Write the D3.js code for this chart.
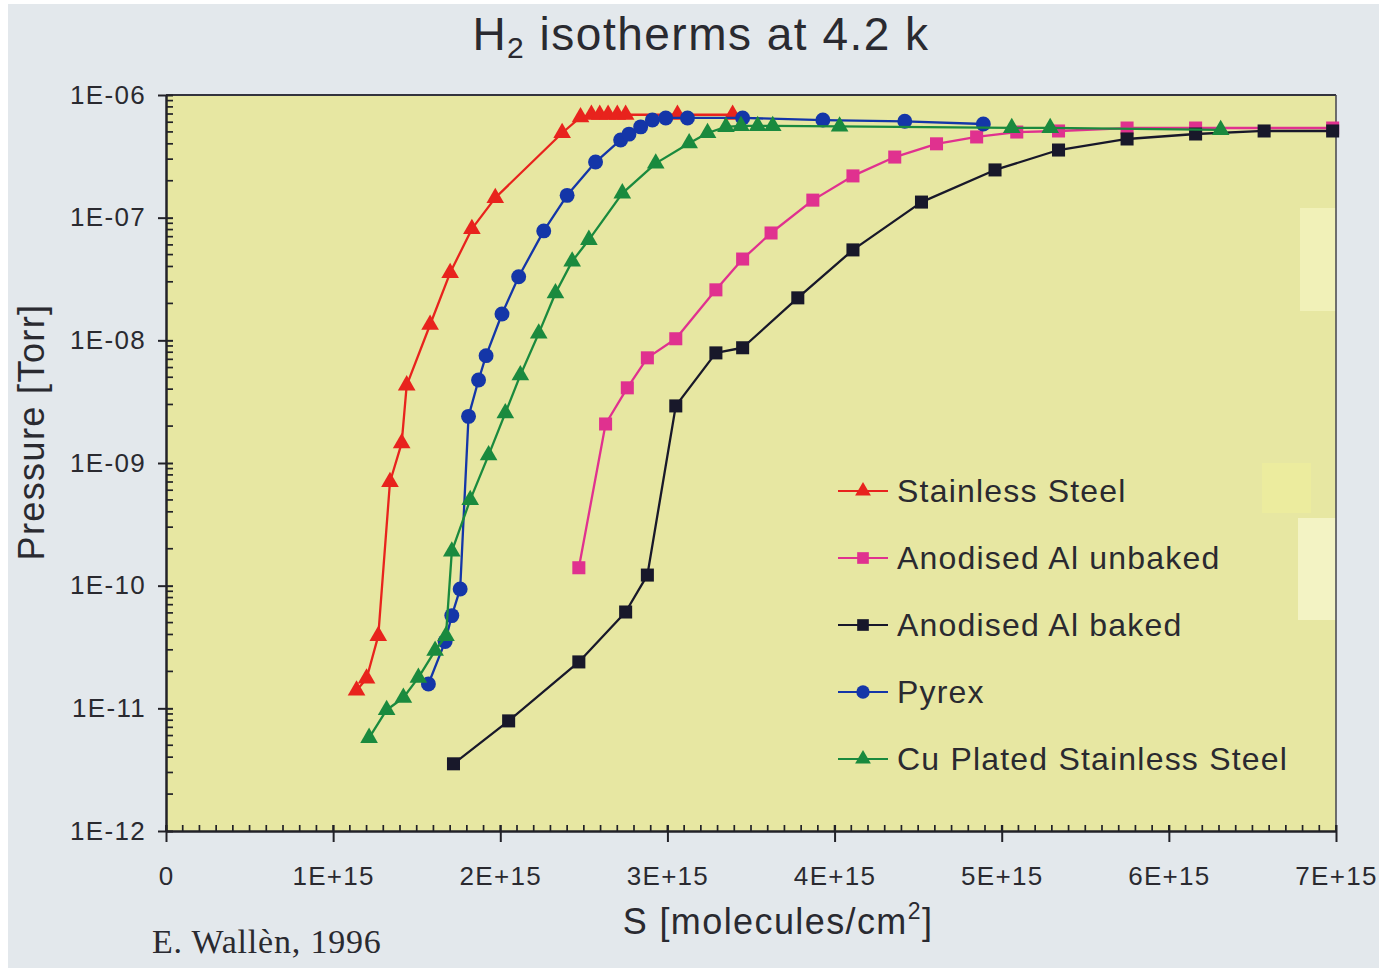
<!DOCTYPE html>
<html>
<head>
<meta charset="utf-8">
<script src="https://cdn.jsdelivr.net/npm/d3@7"></script>
<style>
  html, body { margin: 0; padding: 0; background: #ffffff; }
  svg { display: block; }
  text { fill: #2a2a30; }
  .sans { font-family: "Liberation Sans", Arial, Helvetica, sans-serif; }
  .serif { font-family: "Liberation Serif", "Times New Roman", serif; }
</style>
</head>
<body>
<svg id="chart" width="1385" height="973"></svg>
<script>
// H2 adsorption isotherms at 4.2 K: pressure vs surface coverage S (molecules/cm^2)

const seriesNames = ["Stainless Steel", "Anodised Al unbaked", "Anodised Al baked", "Pyrex", "Cu Plated Stainless Steel"];

const stainlessS = [1.14e15, 1.20e15, 1.27e15, 1.34e15, 1.41e15, 1.44e15, 1.58e15, 1.70e15, 1.83e15, 1.97e15, 2.37e15, 2.48e15, 2.545e15, 2.595e15, 2.645e15, 2.70e15, 2.75e15, 3.06e15, 3.39e15];
const stainlessP = [1.4e-11, 1.75e-11, 3.9e-11, 7.0e-10, 1.45e-9, 4.3e-9, 1.34e-8, 3.55e-8, 8.1e-8, 1.45e-7, 4.9e-7, 6.6e-7, 6.9e-7, 6.9e-7, 6.9e-7, 6.9e-7, 6.9e-7, 6.9e-7, 6.9e-7];

const unbakedS = [2.47e15, 2.63e15, 2.76e15, 2.88e15, 3.05e15, 3.29e15, 3.45e15, 3.62e15, 3.87e15, 4.11e15, 4.36e15, 4.61e15, 4.85e15, 5.09e15, 5.34e15, 5.75e15, 6.16e15, 6.98e15];
const unbakedP = [1.4e-10, 2.08e-9, 4.1e-9, 7.2e-9, 1.03e-8, 2.58e-8, 4.6e-8, 7.5e-8, 1.39e-7, 2.19e-7, 3.12e-7, 4.0e-7, 4.55e-7, 4.99e-7, 5.09e-7, 5.38e-7, 5.38e-7, 5.38e-7];

const bakedS = [1.72e15, 2.05e15, 2.47e15, 2.75e15, 2.88e15, 3.05e15, 3.29e15, 3.45e15, 3.78e15, 4.11e15, 4.52e15, 4.96e15, 5.34e15, 5.75e15, 6.16e15, 6.57e15, 6.98e15];
const bakedP = [3.53e-12, 7.9e-12, 2.39e-11, 6.1e-11, 1.22e-10, 2.92e-9, 7.9e-9, 8.7e-9, 2.22e-8, 5.46e-8, 1.34e-7, 2.45e-7, 3.56e-7, 4.38e-7, 4.81e-7, 5.09e-7, 5.09e-7];

const pyrexS = [1.57e15, 1.67e15, 1.71e15, 1.76e15, 1.81e15, 1.87e15, 1.915e15, 2.01e15, 2.11e15, 2.26e15, 2.40e15, 2.57e15, 2.72e15, 2.77e15, 2.84e15, 2.91e15, 2.99e15, 3.12e15, 3.45e15, 3.93e15, 4.42e15, 4.89e15];
const pyrexP = [1.58e-11, 3.5e-11, 5.7e-11, 9.4e-11, 2.4e-9, 4.75e-9, 7.5e-9, 1.64e-8, 3.3e-8, 7.8e-8, 1.52e-7, 2.84e-7, 4.3e-7, 4.8e-7, 5.5e-7, 6.25e-7, 6.5e-7, 6.5e-7, 6.5e-7, 6.25e-7, 6.1e-7, 5.8e-7];

const cuS = [1.215e15, 1.32e15, 1.42e15, 1.51e15, 1.61e15, 1.675e15, 1.71e15, 1.82e15, 1.93e15, 2.03e15, 2.12e15, 2.23e15, 2.33e15, 2.43e15, 2.53e15, 2.73e15, 2.93e15, 3.13e15, 3.24e15, 3.35e15, 3.44e15, 3.54e15, 3.63e15, 4.03e15, 5.06e15, 5.29e15, 6.31e15];
const cuP = [5.75e-12, 9.7e-12, 1.22e-11, 1.78e-11, 2.95e-11, 3.9e-11, 1.9e-10, 5.0e-10, 1.16e-9, 2.55e-9, 5.2e-9, 1.14e-8, 2.42e-8, 4.4e-8, 6.6e-8, 1.58e-7, 2.77e-7, 4.05e-7, 4.9e-7, 5.5e-7, 5.6e-7, 5.6e-7, 5.6e-7, 5.55e-7, 5.4e-7, 5.4e-7, 5.2e-7];

const xTickValues = [0, 1e15, 2e15, 3e15, 4e15, 5e15, 6e15, 7e15];
const xTickLabels = ["0", "1E+15", "2E+15", "3E+15", "4E+15", "5E+15", "6E+15", "7E+15"];
const yTickValues = [1e-12, 1e-11, 1e-10, 1e-9, 1e-8, 1e-7, 1e-6];
const yTickLabels = ["1E-12", "1E-11", "1E-10", "1E-09", "1E-08", "1E-07", "1E-06"];

// Series styling and layout
const series = [
  { name: seriesNames[0], s: stainlessS, p: stainlessP, color: "#e8231d", symbol: d3.symbolTriangle, size: 135 },
  { name: seriesNames[1], s: unbakedS,   p: unbakedP,   color: "#e0318f", symbol: d3.symbolSquare,   size: 170 },
  { name: seriesNames[2], s: bakedS,     p: bakedP,     color: "#18182a", symbol: d3.symbolSquare,   size: 170 },
  { name: seriesNames[3], s: pyrexS,     p: pyrexP,     color: "#1436a8", symbol: d3.symbolCircle,   size: 175 },
  { name: seriesNames[4], s: cuS,        p: cuP,        color: "#1a8a3e", symbol: d3.symbolTriangle, size: 135 }
];

const svg = d3.select("#chart");
const W = 1385, H = 973;
const plot = { left: 166, right: 1336, top: 95, bottom: 831 };

// page background
svg.append("rect").attr("x", 8).attr("y", 4).attr("width", W - 14).attr("height", H - 9)
  .attr("fill", "#e3e8ec");

const x = d3.scaleLinear().domain([0, 7e15]).range([plot.left, plot.right]);
const y = d3.scaleLog().domain([1e-12, 1e-6]).range([plot.bottom, plot.top]);

// plot area
svg.append("rect")
  .attr("x", plot.left).attr("y", plot.top)
  .attr("width", plot.right - plot.left).attr("height", plot.bottom - plot.top)
  .attr("fill", "#e7e7a2");

// lighter patches along the right edge of the plot area
const patches = [
  { x0: 1300, y0: 208, x1: 1336, y1: 311, c: "#f1f1b8" },
  { x0: 1262, y0: 463, x1: 1311, y1: 513, c: "#ecec9e" },
  { x0: 1298, y0: 518, x1: 1336, y1: 620, c: "#f3f3c4" }
];
svg.append("g").selectAll("rect").data(patches).join("rect")
  .attr("x", d => d.x0).attr("y", d => d.y0)
  .attr("width", d => d.x1 - d.x0).attr("height", d => d.y1 - d.y0)
  .attr("fill", d => d.c);

// frame: top and right edges
svg.append("line").attr("x1", plot.left).attr("x2", plot.right).attr("y1", plot.top).attr("y2", plot.top)
  .attr("stroke", "#33333d").attr("stroke-width", 2);
svg.append("line").attr("x1", plot.right).attr("x2", plot.right).attr("y1", plot.top).attr("y2", plot.bottom)
  .attr("stroke", "#44444c").attr("stroke-width", 1.5);

// x axis minor ticks (inside) and major ticks (crossing)
const xMinor = d3.range(0, 71).map(i => i * 1e14);
const axisColor = "#222228";
svg.append("g").selectAll("line").data(xMinor).join("line")
  .attr("x1", d => x(d)).attr("x2", d => x(d))
  .attr("y1", plot.bottom).attr("y2", plot.bottom - 6)
  .attr("stroke", axisColor).attr("stroke-width", 1.7);

const xAxis = d3.axisBottom(x).tickValues(xTickValues)
  .tickFormat((d, i) => xTickLabels[i]).tickSizeInner(11).tickSizeOuter(0).tickPadding(25);
const gx = svg.append("g").attr("transform", `translate(0,${plot.bottom})`).call(xAxis);
gx.attr("font-family", null).attr("font-size", null);
gx.select(".domain").attr("stroke", axisColor).attr("stroke-width", 2.5);
gx.selectAll(".tick line").attr("stroke", axisColor).attr("stroke-width", 2).attr("y1", -6);
gx.selectAll(".tick text").attr("class", "sans").style("font-size", "26px").attr("letter-spacing", 1.3)
  .attr("fill", "#2a2a30");

// y axis minor log ticks (inside)
const yMinor = [];
for (let e = -12; e < -6; e++) for (let m = 2; m <= 9; m++) yMinor.push(m * Math.pow(10, e));
svg.append("g").selectAll("line").data(yMinor).join("line")
  .attr("x1", plot.left).attr("x2", plot.left + 7)
  .attr("y1", d => y(d)).attr("y2", d => y(d))
  .attr("stroke", axisColor).attr("stroke-width", 1.7);

const yAxis = d3.axisLeft(y).tickValues(yTickValues)
  .tickFormat((d, i) => yTickLabels[i]).tickSizeInner(8).tickSizeOuter(0).tickPadding(12);
const gy = svg.append("g").attr("transform", `translate(${plot.left},0)`).call(yAxis);
gy.attr("font-family", null).attr("font-size", null);
gy.select(".domain").attr("stroke", axisColor).attr("stroke-width", 2.5);
gy.selectAll(".tick line").attr("stroke", axisColor).attr("stroke-width", 2).attr("x1", 7);
gy.selectAll(".tick text").attr("class", "sans").style("font-size", "26px").attr("letter-spacing", 1.3)
  .attr("fill", "#2a2a30");

// series lines and markers
const line = d3.line().x(d => x(d[0])).y(d => y(d[1]));
const gSeries = svg.append("g");
series.forEach(sr => {
  const pts = sr.s.map((v, i) => [v, sr.p[i]]);
  gSeries.append("path").datum(pts).attr("d", line)
    .attr("fill", "none").attr("stroke", sr.color).attr("stroke-width", 2.3)
    .attr("stroke-linejoin", "round");
  gSeries.append("g").selectAll("path").data(pts).join("path")
    .attr("d", d3.symbol().type(sr.symbol).size(sr.size))
    .attr("transform", d => `translate(${x(d[0])},${y(d[1])})`)
    .attr("fill", sr.color);
});

// legend
const legend = svg.append("g").attr("transform", "translate(838,491)");
series.forEach((sr, i) => {
  const row = legend.append("g").attr("transform", `translate(0,${i * 67})`);
  row.append("line").attr("x1", 0).attr("x2", 50).attr("y1", 0).attr("y2", 0)
    .attr("stroke", sr.color).attr("stroke-width", 2.2);
  row.append("path").attr("d", d3.symbol().type(sr.symbol).size(sr.size * 0.8)())
    .attr("transform", "translate(25,0)").attr("fill", sr.color);
  row.append("text").attr("class", "sans").attr("x", 59).attr("y", 11)
    .style("font-size", "32px").attr("letter-spacing", 1.2).text(sr.name);
});

// title
const title = svg.append("text").attr("class", "sans").attr("x", 701).attr("y", 50)
  .attr("text-anchor", "middle").style("font-size", "46px").attr("letter-spacing", 1.5);
title.append("tspan").text("H");
title.append("tspan").style("font-size", "30px").attr("dy", 8).text("2");
title.append("tspan").attr("dy", -8).text(" isotherms at 4.2 k");

// axis titles
const xt = svg.append("text").attr("class", "sans").attr("x", 778).attr("y", 934)
  .attr("text-anchor", "middle").style("font-size", "36px").attr("letter-spacing", 1.4);
xt.append("tspan").text("S [molecules/cm");
xt.append("tspan").style("font-size", "23px").attr("dy", -15).text("2");
xt.append("tspan").attr("dy", 15).text("]");

svg.append("text").attr("class", "sans")
  .attr("transform", "translate(44,432) rotate(-90)")
  .attr("text-anchor", "middle").style("font-size", "36px").attr("letter-spacing", 1.4)
  .text("Pressure [Torr]");

// author credit
svg.append("text").attr("class", "serif").attr("x", 152).attr("y", 953)
  .style("font-size", "34px").attr("letter-spacing", 0.8).attr("fill", "#1e1e24")
  .text("E. Wallèn, 1996");
</script>
</body>
</html>
